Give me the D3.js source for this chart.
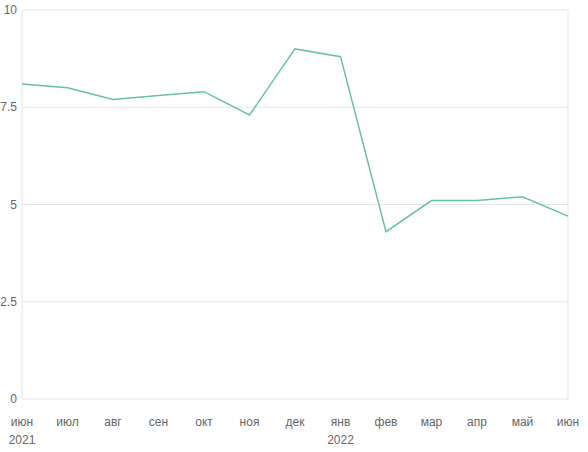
<!DOCTYPE html>
<html>
<head>
<script src="https://d3js.org/d3.v7.min.js"></script>
<style>
  body { margin: 0; background: #fff; }
  text { font-family: Arial, "Liberation Sans", sans-serif; font-size: 12px; fill: #666; }
</style>
</head>
<body>
<div id="chart"></div>
<script>
const months = ["июн","июл","авг","сен","окт","ноя","дек","янв","фев","мар","апр","май","июн"];
const years = {0: "2021", 7: "2022"};
const values = [8.1, 8.0, 7.7, 7.8, 7.9, 7.3, 9.0, 8.8, 4.3, 5.1, 5.1, 5.2, 4.7];
const yTicks = [0, 2.5, 5, 7.5, 10];

const width = 588, height = 452;
const margin = {top: 10, right: 20, bottom: 53, left: 22};

const svg = d3.select("#chart").append("svg")
  .attr("width", width).attr("height", height);

const x = d3.scalePoint().domain(d3.range(months.length))
  .range([margin.left, width - margin.right]);
const y = d3.scaleLinear().domain([0, 10])
  .range([height - margin.bottom, margin.top]);

// grid
svg.append("g").selectAll("line").data(yTicks).join("line")
  .attr("x1", margin.left).attr("x2", width - margin.right)
  .attr("y1", d => y(d)).attr("y2", d => y(d))
  .attr("stroke", "#e6e6e6");
svg.append("g").selectAll("line").data([0, months.length - 1]).join("line")
  .attr("x1", d => x(d)).attr("x2", d => x(d))
  .attr("y1", y(0)).attr("y2", y(10))
  .attr("stroke", "#e6e6e6");

// y labels
svg.append("g").selectAll("text").data(yTicks).join("text")
  .attr("x", margin.left - 5).attr("y", d => y(d) + 4)
  .attr("text-anchor", "end")
  .text(d => d);

// x labels
svg.append("g").selectAll("text").data(months).join("text")
  .attr("x", (d, i) => x(i)).attr("y", y(0) + 27)
  .attr("text-anchor", "middle")
  .text(d => d);
svg.append("g").selectAll("text").data(Object.keys(years)).join("text")
  .attr("x", d => x(+d)).attr("y", y(0) + 45)
  .attr("text-anchor", "middle")
  .text(d => years[d]);

svg.append("path").datum(values)
  .attr("fill", "none").attr("stroke", "#66c2a5").attr("stroke-width", 1.5)
  .attr("d", d3.line().x((d, i) => x(i)).y(d => y(d)));
</script>
</body>
</html>
